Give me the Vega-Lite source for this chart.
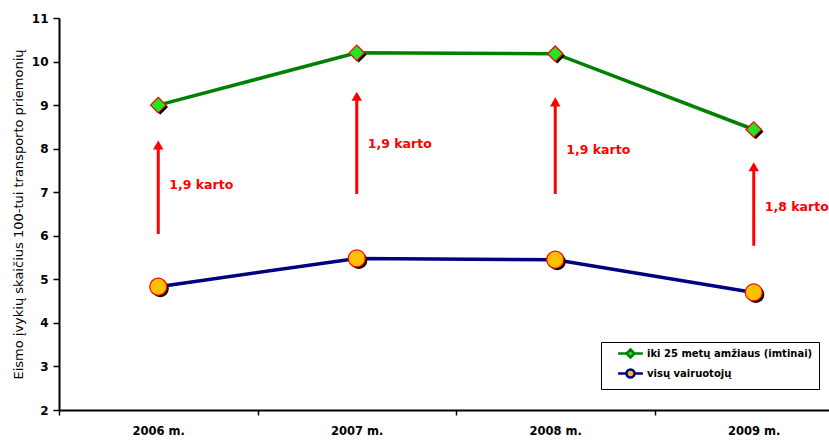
{
  "$schema": "https://vega.github.io/schema/vega-lite/v6.json",
  "width": 770,
  "height": 392,
  "autosize": "none",
  "padding": {"left": 59, "top": 18, "right": 0, "bottom": 31},
  "background": "white",
  "config": {"view": {"stroke": null}, "font": "DejaVu Sans"},
  "datasets": {
    "series": [
      {"year": "2006 m.", "series": "iki 25 metų amžiaus (imtinai)", "value": 9.0},
      {"year": "2007 m.", "series": "iki 25 metų amžiaus (imtinai)", "value": 10.2},
      {"year": "2008 m.", "series": "iki 25 metų amžiaus (imtinai)", "value": 10.18},
      {"year": "2009 m.", "series": "iki 25 metų amžiaus (imtinai)", "value": 8.44},
      {"year": "2006 m.", "series": "visų vairuotojų", "value": 4.83},
      {"year": "2007 m.", "series": "visų vairuotojų", "value": 5.48},
      {"year": "2008 m.", "series": "visų vairuotojų", "value": 5.45},
      {"year": "2009 m.", "series": "visų vairuotojų", "value": 4.7}
    ],
    "arrows": [
      {"year": "2006 m.", "lo": 6.04, "hi": 8.2, "label": "1,9 karto", "labelY": 7.17},
      {"year": "2007 m.", "lo": 6.96, "hi": 9.32, "label": "1,9 karto", "labelY": 8.1},
      {"year": "2008 m.", "lo": 6.96, "hi": 9.19, "label": "1,9 karto", "labelY": 7.97},
      {"year": "2009 m.", "lo": 5.77, "hi": 7.7, "label": "1,8 karto", "labelY": 6.65}
    ]
  },
  "encoding": {
    "x": {
      "field": "year",
      "type": "nominal",
      "sort": ["2006 m.", "2007 m.", "2008 m.", "2009 m."],
      "scale": {"type": "band", "range": [0, 794], "paddingInner": 0, "paddingOuter": 0},
      "axis": {
        "title": null,
        "tickBand": "extent",
        "labelAngle": 0,
        "labelFont": "DejaVu Sans",
        "labelFontWeight": "bold",
        "labelFontSize": 11.5,
        "labelColor": "black",
        "labelPadding": 10,
        "domainColor": "black",
        "domainWidth": 2,
        "tickColor": "black",
        "tickWidth": 1.5,
        "tickSize": 5,
        "grid": false
      }
    }
  },
  "layer": [
    {
      "data": {"name": "arrows"},
      "mark": {"type": "rule", "color": "#ff0000", "strokeWidth": 3, "y2Offset": 6},
      "encoding": {
        "y": {"field": "lo", "type": "quantitative"},
        "y2": {"field": "hi"}
      }
    },
    {
      "data": {"name": "arrows"},
      "mark": {"type": "point", "shape": "triangle-up", "filled": true, "color": "#ff0000", "size": 110, "opacity": 1, "yOffset": 5},
      "encoding": {
        "y": {"field": "hi", "type": "quantitative"}
      }
    },
    {
      "data": {"name": "arrows"},
      "mark": {"type": "text", "color": "#ff0000", "font": "DejaVu Sans", "fontWeight": "bold", "fontSize": 12.5, "align": "left", "baseline": "middle", "dx": 11},
      "encoding": {
        "y": {"field": "labelY", "type": "quantitative"},
        "text": {"field": "label"}
      }
    },
    {
      "data": {"name": "series"},
      "mark": {"type": "line", "strokeWidth": 3.5},
      "encoding": {
        "y": {
          "field": "value",
          "type": "quantitative",
          "scale": {"domain": [2, 11], "nice": false, "zero": false},
          "axis": {
            "title": "Eismo įvykių skaičius 100-tui transporto priemonių",
            "titleFont": "DejaVu Sans",
            "titleFontSize": 13,
            "titleFontWeight": "normal",
            "titleColor": "black",
            "titlePadding": 6,
            "values": [2, 3, 4, 5, 6, 7, 8, 9, 10, 11],
            "labelFont": "DejaVu Sans",
            "labelFontWeight": "bold",
            "labelFontSize": 12,
            "labelColor": "black",
            "labelPadding": 5,
            "domainColor": "black",
            "domainWidth": 2,
            "tickColor": "black",
            "tickWidth": 1.5,
            "tickSize": 6,
            "grid": false
          }
        },
        "stroke": {
          "field": "series",
          "type": "nominal",
          "scale": {"domain": ["iki 25 metų amžiaus (imtinai)", "visų vairuotojų"], "range": ["#008000", "#000080"]},
          "legend": {
            "title": null,
            "orient": "none",
            "legendX": 542,
            "legendY": 324,
            "strokeColor": "black",
            "fillColor": "white",
            "padding": 6,
            "labelFont": "DejaVu Sans",
            "labelFontWeight": "bold",
            "labelFontSize": 10,
            "labelColor": "black",
            "labelLimit": 300,
            "symbolSize": 64,
            "symbolOffset": 18,
            "labelOffset": 11,
            "rowPadding": 1,
            "encode": {
              "symbols": {
                "update": {
                  "shape": {"signal": "datum.value === 'visų vairuotojų' ? 'M-3.1,0H-1M1,0H3.1M-1,0A1,1 0 1,0 1,0A1,1 0 1,0 -1,0Z' : 'M-3.1,0H-1M1,0H3.1M0,-1L1,0L0,1L-1,0Z'"},
                  "fill": {"signal": "datum.value === 'visų vairuotojų' ? '#ffc000' : '#22e622'"},
                  "strokeWidth": {"value": 2.5},
                  "opacity": {"value": 1},
                  "fillOpacity": {"value": 1}
                }
              }
            }
          }
        }
      }
    },
    {
      "data": {"name": "series"},
      "transform": [{"filter": "datum.series === 'iki 25 metų amžiaus (imtinai)'"}],
      "mark": {"type": "point", "shape": "diamond", "size": 240, "filled": true, "color": "black", "opacity": 1, "xOffset": 2, "yOffset": 2},
      "encoding": {
        "y": {"field": "value", "type": "quantitative"}
      }
    },
    {
      "data": {"name": "series"},
      "transform": [{"filter": "datum.series === 'visų vairuotojų'"}],
      "mark": {"type": "point", "shape": "circle", "size": 290, "filled": true, "color": "black", "opacity": 1, "xOffset": 2, "yOffset": 2},
      "encoding": {
        "y": {"field": "value", "type": "quantitative"}
      }
    },
    {
      "data": {"name": "series"},
      "transform": [{"filter": "datum.series === 'iki 25 metų amžiaus (imtinai)'"}],
      "mark": {"type": "point", "shape": "diamond", "size": 240, "filled": true, "fill": "#22e622", "stroke": "#ff0000", "strokeWidth": 1.2, "opacity": 1},
      "encoding": {
        "y": {"field": "value", "type": "quantitative"}
      }
    },
    {
      "data": {"name": "series"},
      "transform": [{"filter": "datum.series === 'visų vairuotojų'"}],
      "mark": {"type": "point", "shape": "circle", "size": 290, "filled": true, "fill": "#ffc000", "stroke": "#ff0000", "strokeWidth": 1.2, "opacity": 1},
      "encoding": {
        "y": {"field": "value", "type": "quantitative"}
      }
    }
  ]
}
